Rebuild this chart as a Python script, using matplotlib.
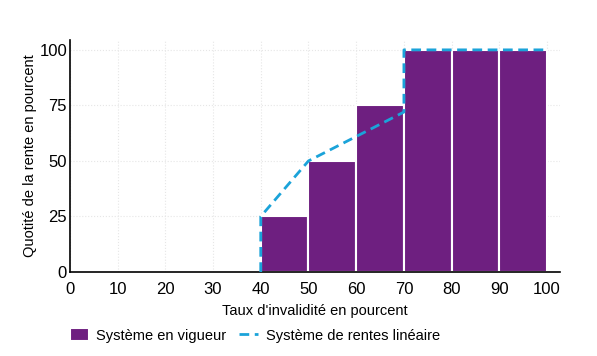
import matplotlib.pyplot as plt
import numpy as np

plt.rcParams['font.family'] = ['Liberation Sans', 'DejaVu Sans']

# Système en vigueur (bars)
bar_left = [40, 50, 60, 70, 80, 90]
bar_height = [25, 50, 75, 100, 100, 100]

# Système de rentes linéaire (dashed line)
lin_x = [40, 40, 50, 70, 70, 100]
lin_y = [0, 25, 50, 72, 100, 100]

xticks = np.arange(0, 101, 10)
yticks = [0, 25, 50, 75, 100]

purple = '#6E1F80'
blue = '#1BA3D9'

fig = plt.figure(figsize=(5.97, 3.56), dpi=100)
ax = fig.add_axes([0.117, 0.236, 0.821, 0.652])

bars = ax.bar(bar_left, bar_height, width=10, align='edge', color=purple,
              edgecolor='white', linewidth=1.5, label='Système en vigueur', zorder=2)
line, = ax.plot(lin_x, lin_y, color=blue, linestyle=(0, (3.5, 2)), linewidth=2,
                label='Système de rentes linéaire', zorder=3)

ax.set_xlim(0, 102.7)
ax.set_ylim(0, 104.5)
ax.set_xticks(xticks)
ax.set_yticks(yticks)
ax.tick_params(axis='y', length=0, labelsize=12, pad=2)
ax.tick_params(axis='x', length=0, labelsize=12, pad=7)
ax.grid(True, color='#e6e6e6', linestyle=':', linewidth=0.8, zorder=0)
ax.set_axisbelow(True)
for s in ['top', 'right']:
    ax.spines[s].set_visible(False)
ax.spines['left'].set_linewidth(1.2)
ax.spines['bottom'].set_linewidth(1.2)

ax.set_xlabel("Taux d'invalidité en pourcent", fontsize=10.5, labelpad=5)
ax.set_ylabel('Quotité de la rente en pourcent', fontsize=10.5, labelpad=2)

fig.legend(handles=[bars, line], loc='lower left', bbox_to_anchor=(0.095, 0.0), ncol=2,
           frameon=False, fontsize=10.5, handlelength=1.3, handleheight=1.0,
           columnspacing=0.9, handletextpad=0.5)

fig.savefig('out.png', dpi=100)
